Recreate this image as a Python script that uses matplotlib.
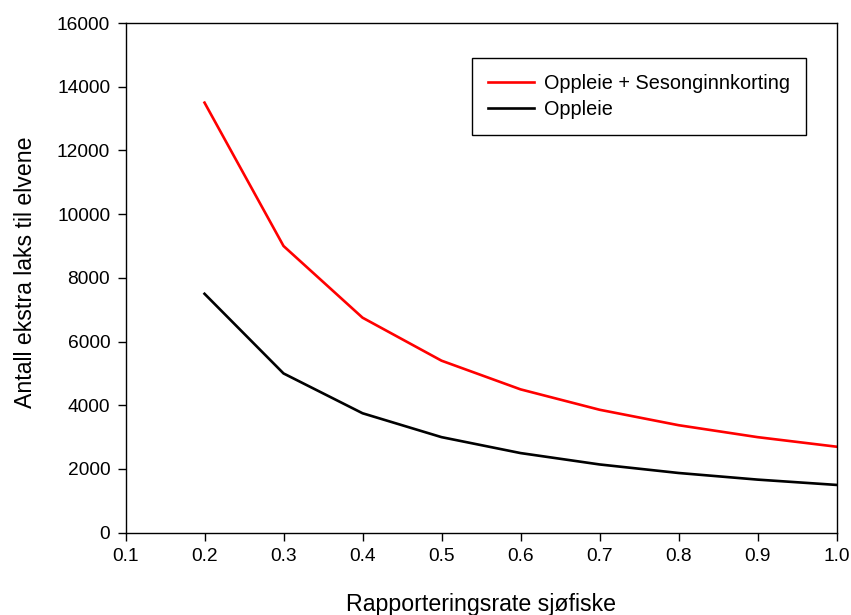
import matplotlib
matplotlib.use("Agg")
import matplotlib.pyplot as plt

rate = [0.2, 0.3, 0.4, 0.5, 0.6, 0.7, 0.8, 0.9, 1.0]
oppleie_sesong = [13500, 9000, 6750, 5400, 4500, 3860, 3375, 3000, 2700]
oppleie = [7500, 5000, 3750, 3000, 2500, 2143, 1875, 1667, 1500]
xticks = [0.1, 0.2, 0.3, 0.4, 0.5, 0.6, 0.7, 0.8, 0.9, 1.0]
yticks = [0, 2000, 4000, 6000, 8000, 10000, 12000, 14000, 16000]

plt.rcParams['font.family'] = ['Liberation Sans', 'DejaVu Sans']

fig = plt.figure(figsize=(8.51, 6.15), dpi=100)
ax = fig.add_axes([0.1475, 0.1338, 0.8355, 0.8288])

ax.plot(rate, oppleie_sesong, color='#ff0000', lw=1.9, label='Oppleie + Sesonginnkorting')
ax.plot(rate, oppleie, color='black', lw=1.9, label='Oppleie')

ax.set_xlim(0.1, 1.0)
ax.set_ylim(0, 16000)
ax.set_xticks(xticks)
ax.set_xticklabels([f"{v:.1f}" for v in xticks])
ax.set_yticks(yticks)
ax.set_yticklabels([str(v) for v in yticks])
ax.tick_params(direction='out', length=6, width=1, labelsize=13.8, top=False, right=False, pad=5)
for s in ax.spines.values():
    s.set_linewidth(1)

ax.set_xlabel('Rapporteringsrate sjøfiske', fontsize=16.7, labelpad=20)
ax.set_ylabel('Antall ekstra laks til elvene', fontsize=16.7)
ax.yaxis.set_label_coords(-0.124, 0.511)

leg = ax.legend(loc='upper left', bbox_to_anchor=(0.487, 0.931), borderaxespad=0,
                fancybox=False, edgecolor='black', framealpha=1, fontsize=14.3,
                handlelength=2.35, borderpad=0.8, labelspacing=0.35, handletextpad=0.5)
leg.get_frame().set_linewidth(1)

fig.savefig('out.png', dpi=100)
